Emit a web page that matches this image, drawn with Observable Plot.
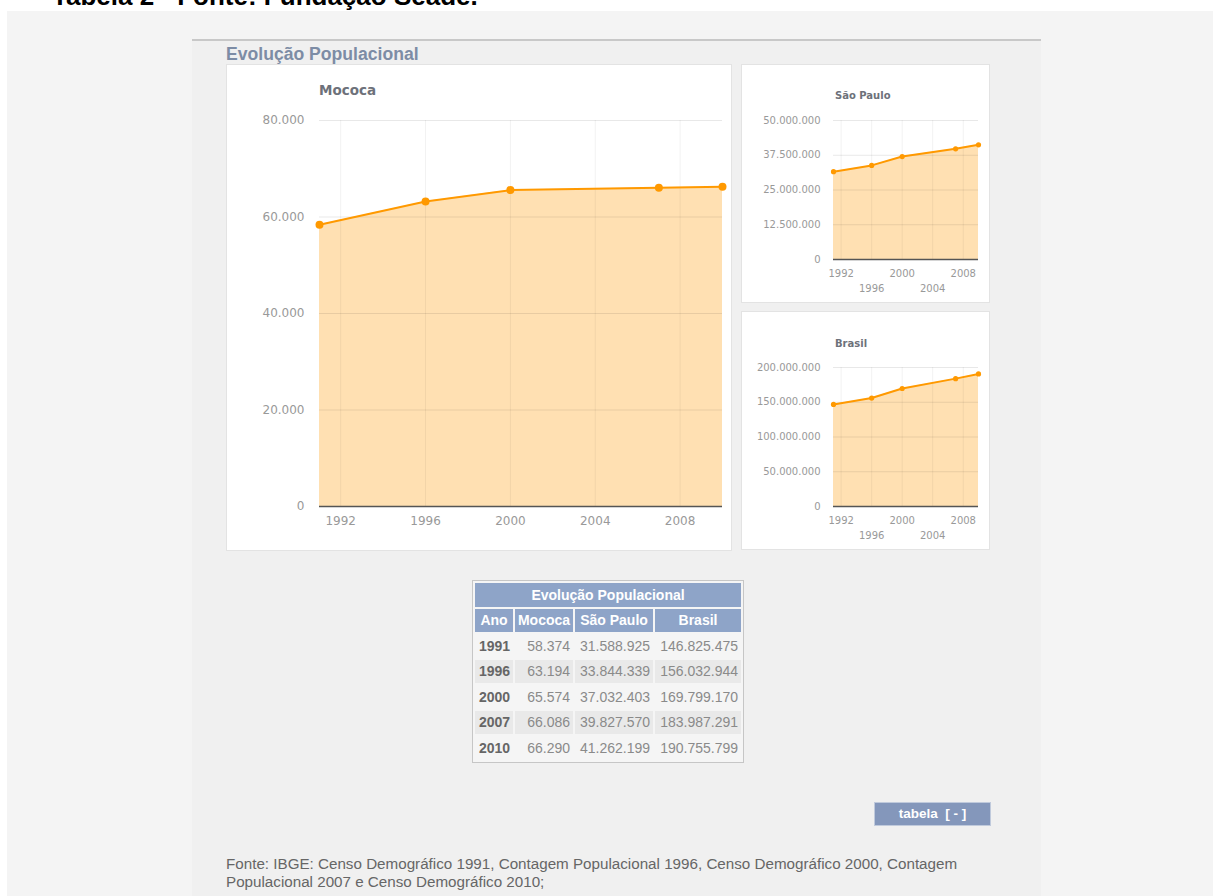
<!DOCTYPE html>
<html>
<head>
<meta charset="utf-8">
<script src="https://cdn.jsdelivr.net/npm/d3@7"></script>
<script src="https://cdn.jsdelivr.net/npm/@observablehq/plot@0.6"></script>
<style>
html, body { margin: 0; padding: 0; background: #fff; }
#page { position: relative; width: 1213px; height: 896px; overflow: hidden; font-family: "Liberation Sans", Arial, sans-serif; }
.abs { position: absolute; }
#toptitle { left: 52px; top: -17px; font-size: 26px; line-height: 26px; font-weight: bold; color: #000; white-space: nowrap; }
#outer { left: 7px; top: 11px; width: 1206px; height: 885px; background: #f4f4f4; }
#panel { left: 192px; top: 39px; width: 849px; height: 857px; background: #f0f0f0; border-top: 2px solid #c8c8c8; box-sizing: border-box; }
#ptitle { left: 226px; top: 46px; font-size: 17.6px; line-height: 1; font-weight: bold; color: #7d8ca5; white-space: nowrap; }
.box { background: #fff; border: 1px solid #e3e3e3; box-sizing: border-box; }
.ctitle { font-family: "DejaVu Sans", sans-serif; font-weight: bold; color: #6d717a; line-height: 1; white-space: nowrap; }
#tbl { left: 472px; top: 580px; border: 1px solid #c6c6c6; border-spacing: 2px; background: #f5f5f5; table-layout: fixed; width: 272px; font-size: 14px; }
#tbl th { background: #8ea4c8; color: #fff; font-weight: bold; height: 23.5px; padding: 0; text-align: center; }
#tbl td { height: 23.5px; padding: 0 3px; color: #8a8a8a; text-align: right; white-space: nowrap; }
#tbl td.yr { font-weight: bold; color: #666; text-align: left; padding-left: 4px; }
#tbl tr.alt td { background: #e9e9e9; }
#btn { left: 874px; top: 802px; width: 117px; height: 24px; background: #8497bb; border: 1px solid #c0cadc; box-sizing: border-box; color: #fff; font-weight: bold; font-size: 13.5px; line-height: 22px; text-align: center; white-space: pre; }
#footer { left: 226px; top: 855px; font-size: 15.2px; line-height: 18px; color: #666; white-space: nowrap; }
</style>
</head>
<body>
<div id="page">
  <div id="toptitle" class="abs">Tabela 2 - Fonte: Fundação Seade.</div>
  <div id="outer" class="abs"></div>
  <div id="panel" class="abs"></div>
  <div id="ptitle" class="abs">Evolução Populacional</div>

  <div class="abs box" style="left:226px;top:64px;width:506px;height:487px;"></div>
  <div class="abs box" style="left:741px;top:64px;width:249px;height:239px;"></div>
  <div class="abs box" style="left:741px;top:311px;width:249px;height:239px;"></div>

  <div id="c0" class="abs" style="left:226px;top:64px;"></div>
  <div id="c1" class="abs" style="left:741px;top:64px;"></div>
  <div id="c2" class="abs" style="left:741px;top:311px;"></div>

  <div id="t0" class="abs ctitle" style="left:319px;top:84px;font-size:13.5px;"></div>
  <div id="t1" class="abs ctitle" style="left:835px;top:91px;font-size:10px;"></div>
  <div id="t2" class="abs ctitle" style="left:835px;top:339px;font-size:10px;"></div>

  <table id="tbl" class="abs">
    <colgroup><col style="width:38px"><col style="width:58px"><col style="width:78px"><col style="width:86px"></colgroup>
    <tbody id="tbody"></tbody>
  </table>

  <div id="btn" class="abs">tabela  [ - ]</div>

  <div id="footer" class="abs">Fonte: IBGE: Censo Demográfico 1991, Contagem Populacional 1996, Censo Demográfico 2000, Contagem<br>Populacional 2007 e Censo Demográfico 2010;</div>
</div>

<script>
// ---- Data ----
const years = [1991, 1996, 2000, 2007, 2010];
const mococa = [58374, 63194, 65574, 66086, 66290];
const saoPaulo = [31588925, 33844339, 37032403, 39827570, 41262199];
const brasil = [146825475, 156032944, 169799170, 183987291, 190755799];

const chartTitles = ["Mococa", "São Paulo", "Brasil"];
const xTicks = [1992, 1996, 2000, 2004, 2008];
const xTicksRowA = [1992, 2000, 2008];
const xTicksRowB = [1996, 2004];
const mococaYTicks = [0, 20000, 40000, 60000, 80000];
const saoPauloYTicks = [0, 12500000, 25000000, 37500000, 50000000];
const brasilYTicks = [0, 50000000, 100000000, 150000000, 200000000];

const tableTitle = "Evolução Populacional";
const tableHeaders = ["Ano", "Mococa", "São Paulo", "Brasil"];

// ---- Formatting ----
const ptBR = d3.formatLocale({decimal: ",", thousands: ".", grouping: [3], currency: ["R$", ""]});
const fmt = ptBR.format(",d");

const ORANGE = "#ff9900";

function makeChart(values, yTicks, opts) {
  const data = years.map((y, i) => ({year: y, value: values[i]}));
  const marks = [
    Plot.areaY(data, {x: "year", y: "value", fill: ORANGE, fillOpacity: 0.3}),
    Plot.gridX(xTicks, {stroke: "#000", strokeOpacity: 0.055}),
    Plot.gridY(yTicks.filter(d => d !== 0), {stroke: "#000", strokeOpacity: 0.09}),
    Plot.ruleY([0], {stroke: "#555", strokeWidth: 1.5}),
    Plot.lineY(data, {x: "year", y: "value", stroke: ORANGE, strokeWidth: 2}),
    Plot.dot(data, {x: "year", y: "value", fill: ORANGE, r: opts.r}),
    Plot.axisY({ticks: yTicks, tickSize: 0, tickPadding: opts.padY, tickFormat: fmt, fill: "#999", label: null})
  ];
  if (opts.split) {
    marks.push(Plot.axisX({ticks: xTicksRowA, tickSize: 0, tickPadding: 10, tickFormat: d => String(d), fill: "#999", label: null}));
    marks.push(Plot.axisX({ticks: xTicksRowB, tickSize: 0, tickPadding: 25, tickFormat: d => String(d), fill: "#999", label: null}));
  } else {
    marks.push(Plot.axisX({ticks: xTicks, tickSize: 0, tickPadding: 10, tickFormat: d => String(d), fill: "#999", label: null}));
  }
  return Plot.plot({
    width: opts.width,
    height: opts.height,
    marginLeft: opts.ml,
    marginRight: opts.mr,
    marginTop: opts.mt,
    marginBottom: opts.mb,
    style: {background: "transparent", fontFamily: "DejaVu Sans, sans-serif", fontSize: opts.fs + "px", overflow: "visible"},
    x: {type: "linear", domain: [years[0], years[years.length - 1]]},
    y: {domain: [0, yTicks[yTicks.length - 1]]},
    marks
  });
}

document.getElementById("c0").appendChild(makeChart(mococa, mococaYTicks,
  {width: 506, height: 487, ml: 93, mr: 10, mt: 56, mb: 45, fs: 12, r: 4, padY: 15, split: false}));
document.getElementById("c1").appendChild(makeChart(saoPaulo, saoPauloYTicks,
  {width: 249, height: 239, ml: 92, mr: 12, mt: 56, mb: 44, fs: 10, r: 2.6, padY: 13, split: true}));
document.getElementById("c2").appendChild(makeChart(brasil, brasilYTicks,
  {width: 249, height: 239, ml: 92, mr: 12, mt: 56, mb: 44, fs: 10, r: 2.6, padY: 13, split: true}));

["t0", "t1", "t2"].forEach((id, i) => { document.getElementById(id).textContent = chartTitles[i]; });

// ---- Table ----
const tbody = document.getElementById("tbody");
let html = `<tr><th colspan="4">${tableTitle}</th></tr>`;
html += "<tr>" + tableHeaders.map(h => `<th>${h}</th>`).join("") + "</tr>";
years.forEach((y, i) => {
  html += `<tr class="${i % 2 === 1 ? "alt" : ""}"><td class="yr">${y}</td><td>${fmt(mococa[i])}</td><td>${fmt(saoPaulo[i])}</td><td>${fmt(brasil[i])}</td></tr>`;
});
tbody.innerHTML = html;
</script>
</body>
</html>
